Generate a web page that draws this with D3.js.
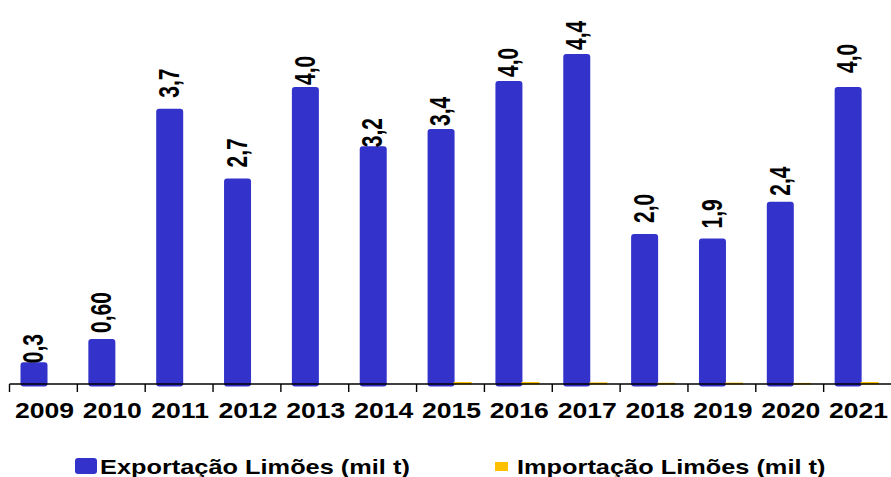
<!DOCTYPE html>
<html>
<head>
<meta charset="utf-8">
<script src="https://cdn.jsdelivr.net/npm/d3@7"></script>
<style>
  html, body { margin: 0; padding: 0; background: #fff; }
  svg { display: block; }
  text { font-family: "Liberation Sans", Arial, sans-serif; font-weight: bold; fill: #000; }
</style>
</head>
<body>
<svg id="chart" width="891" height="477"></svg>
<script>
// Lemon trade, thousand tonnes per year
const years = ["2009", "2010", "2011", "2012", "2013", "2014", "2015", "2016", "2017", "2018", "2019", "2020", "2021"];
const exportValues = [0.29, 0.60, 3.67, 2.74, 3.96, 3.17, 3.40, 4.04, 4.40, 2.00, 1.94, 2.43, 3.96];
const exportDecimals = [1, 2, 1, 1, 1, 1, 1, 1, 1, 1, 1, 1, 1];
const importValues = [0, 0, 0, 0, 0, 0, 0.02, 0.02, 0.015, 0.01, 0.012, 0.008, 0.02];
const seriesNames = ["Exportação Limões (mil t)", "Importação Limões (mil t)"];

// Layout: gap in px between each bar top and the start of its value label
const labelGap = [-1, 6, 11, 11, 2, -1, 3, 4, 4, 11, 10, 6, 14];

const colors = { exp: "#3333cc", imp: "#ffc000" };
const svg = d3.select("#chart");

const x = d3.scaleBand().domain(years).range([9.5, 891.5]).paddingInner(0).paddingOuter(0);
const y = d3.scaleLinear().domain([0, 5]).range([384, 9]);

const barOffset = 11, barWidth = 27;
const impOffset = 37, impWidth = 18;

const fmt = (v, d) => v.toFixed(d).replace(".", ",");

// export bars (rounded, bottom slightly below the axis line)
svg.append("g").selectAll("rect")
  .data(years.map((yr, i) => ({ yr, v: exportValues[i] })))
  .join("rect")
  .attr("x", d => x(d.yr) + barOffset)
  .attr("y", d => y(d.v))
  .attr("width", barWidth)
  .attr("height", d => y(0) - y(d.v) + 2.5)
  .attr("rx", 3)
  .attr("fill", colors.exp);

// import bars (very small values)
svg.append("g").selectAll("rect")
  .data(years.map((yr, i) => ({ yr, v: importValues[i] })).filter(d => d.v > 0))
  .join("rect")
  .attr("x", d => x(d.yr) + impOffset)
  .attr("y", d => y(d.v) - 0.5)
  .attr("width", impWidth)
  .attr("height", d => y(0) - y(d.v) + 1)
  .attr("fill", colors.imp);

// x axis: baseline with ticks at band boundaries
const axisG = svg.append("g");
axisG.append("line")
  .attr("x1", x.range()[0]).attr("x2", 891)
  .attr("y1", y(0)).attr("y2", y(0))
  .attr("stroke", "#000").attr("stroke-width", 1.6);
axisG.selectAll("line.tick")
  .data(years)
  .join("line")
  .attr("class", "tick")
  .attr("x1", d => x(d)).attr("x2", d => x(d))
  .attr("y1", y(0)).attr("y2", y(0) + 8)
  .attr("stroke", "#000").attr("stroke-width", 1.4);

// year labels
axisG.selectAll("text")
  .data(years)
  .join("text")
  .attr("transform", d => `translate(${x(d) + x.bandwidth() / 2 + 1},418) scale(1.18,1)`)
  .attr("text-anchor", "middle")
  .attr("font-size", 22.5)
  .text(d => d);

// vertical value labels above export bars
svg.append("g").selectAll("text")
  .data(years.map((yr, i) => ({ yr, v: exportValues[i], d: exportDecimals[i], g: labelGap[i] })))
  .join("text")
  .attr("transform", d => `translate(${x(d.yr) + barOffset + barWidth / 2 + 9.2},${y(d.v) - d.g}) scale(1.42,1) rotate(-90)`)
  .attr("text-anchor", "start")
  .attr("font-size", 21)
  .text(d => fmt(d.v, d.d));

// legend
const legend = svg.append("g");
legend.append("rect")
  .attr("x", 75).attr("y", 458).attr("width", 22).attr("height", 16)
  .attr("rx", 3).attr("fill", colors.exp);
legend.append("text")
  .attr("transform", "translate(100,474) scale(1.3,1)")
  .attr("font-size", 19.5)
  .text(seriesNames[0]);
legend.append("rect")
  .attr("x", 495).attr("y", 462).attr("width", 13).attr("height", 9)
  .attr("fill", colors.imp);
legend.append("text")
  .attr("transform", "translate(517,474) scale(1.3,1)")
  .attr("font-size", 19.5)
  .text(seriesNames[1]);
</script>
</body>
</html>
